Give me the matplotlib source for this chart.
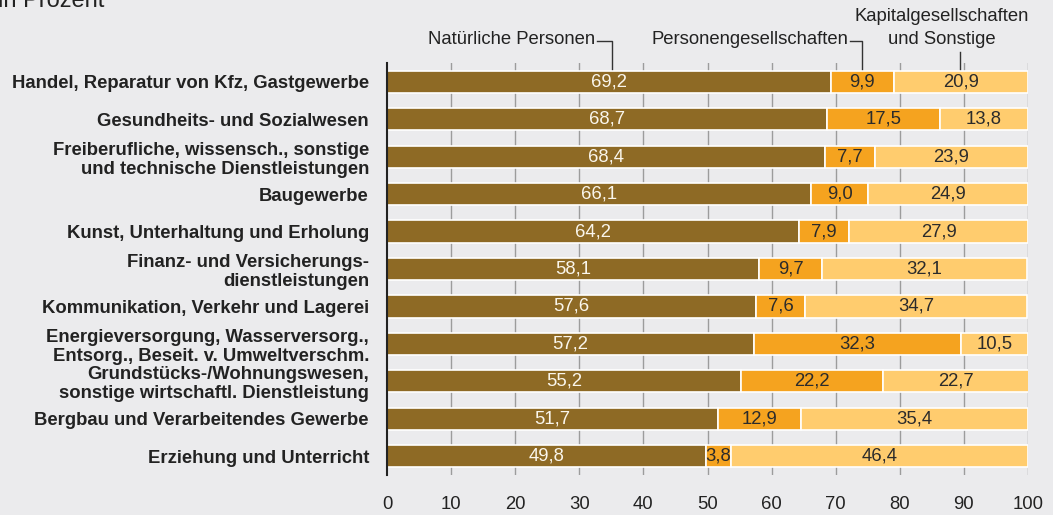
import matplotlib
matplotlib.use("Agg")
import matplotlib.pyplot as plt
import matplotlib.transforms as mtransforms
import numpy as np

plt.rcParams['font.family'] = ['Liberation Sans', 'DejaVu Sans']

categories = [
    "Handel, Reparatur von Kfz, Gastgewerbe",
    "Gesundheits- und Sozialwesen",
    "Freiberufliche, wissensch., sonstige\nund technische Dienstleistungen",
    "Baugewerbe",
    "Kunst, Unterhaltung und Erholung",
    "Finanz- und Versicherungs-\ndienstleistungen",
    "Kommunikation, Verkehr und Lagerei",
    "Energieversorgung, Wasserversorg.,\nEntsorg., Beseit. v. Umweltverschm.",
    "Grundstücks-/Wohnungswesen,\nsonstige wirtschaftl. Dienstleistung",
    "Bergbau und Verarbeitendes Gewerbe",
    "Erziehung und Unterricht",
]
natuerliche = [69.2, 68.7, 68.4, 66.1, 64.2, 58.1, 57.6, 57.2, 55.2, 51.7, 49.8]
personen = [9.9, 17.5, 7.7, 9.0, 7.9, 9.7, 7.6, 32.3, 22.2, 12.9, 3.8]
kapital = [20.9, 13.8, 23.9, 24.9, 27.9, 32.1, 34.7, 10.5, 22.7, 35.4, 46.4]
series_names = ["Natürliche Personen", "Personengesellschaften",
                "Kapitalgesellschaften\nund Sonstige"]
xticks = [0, 10, 20, 30, 40, 50, 60, 70, 80, 90, 100]

W, H = 1053, 515
bg = "#EBEBED"
colors = ["#8E6A25", "#F5A31F", "#FFCC6E"]
text_colors = ["#FAF6EC", "#2b2b2b", "#2b2b2b"]
fs = 13.3

fig = plt.figure(figsize=(W / 100, H / 100), dpi=100, facecolor=bg)
ax = fig.add_axes([387 / W, 40 / H, 641 / W, 412 / H], facecolor=bg)

y = np.arange(len(categories))
left = np.zeros(len(categories))
for vals, c, tc in zip([natuerliche, personen, kapital], colors, text_colors):
    vals = np.array(vals)
    ax.barh(y, vals, left=left, height=0.59, color=c, edgecolor="white",
            linewidth=1.2, zorder=3)
    for yi, l, v in zip(y, left, vals):
        ax.text(l + v / 2, yi, f"{v:.1f}".replace(".", ","), ha="center",
                va="center", color=tc, fontsize=fs, zorder=4)
    left = left + vals

ax.set_xlim(0, 100)
ax.set_ylim(10.5, -0.5)
for xt in xticks[1:]:
    ax.axvline(xt, color="#9c9c9c", lw=1, zorder=1)
ax.set_xticks(xticks)
ax.set_xticklabels([str(t) for t in xticks], fontsize=fs, color="#222222")
ax.tick_params(axis="x", length=0, pad=15)
ax.set_yticks(y)
ax.set_yticklabels(categories, fontsize=fs, fontweight="bold", color="#222222",
                   linespacing=1.15)
ax.tick_params(axis="y", length=0, pad=13)
for s in ["top", "right", "bottom"]:
    ax.spines[s].set_visible(False)
ax.spines["left"].set_color("#222222")
ax.spines["left"].set_linewidth(1.5)
ax.spines["left"].set_zorder(5)

# annotations (x in data units, y in figure pixels from the top)
tr = mtransforms.blended_transform_factory(ax.transData, fig.transFigure)
def fy(px):
    return 1 - px / H

lc = "#333333"
bar_top = 72
ax.text(32.5, fy(44), series_names[0], ha="right", va="baseline", fontsize=fs,
        color="#222222", transform=tr)
ax.plot([32.8, 35.1, 35.1], [fy(41), fy(41), fy(bar_top)], color=lc, lw=1,
        clip_on=False, transform=tr)
ax.text(71.9, fy(44), series_names[1], ha="right", va="baseline", fontsize=fs,
        color="#222222", transform=tr)
ax.plot([72.3, 74.1, 74.1], [fy(41), fy(41), fy(bar_top)], color=lc, lw=1,
        clip_on=False, transform=tr)
for line, py in zip(series_names[2].split("\n"), [21, 44]):
    ax.text(86.6, fy(py), line, ha="center", va="baseline", fontsize=fs,
            color="#222222", transform=tr)
ax.plot([89.4, 89.4], [fy(52), fy(bar_top)], color=lc, lw=1, clip_on=False,
        transform=tr)

fig.text(-2 / W, fy(7), "in Prozent", ha="left", va="baseline", fontsize=17,
         color="#222222")

fig.savefig("out.png", dpi=100, facecolor=bg)
